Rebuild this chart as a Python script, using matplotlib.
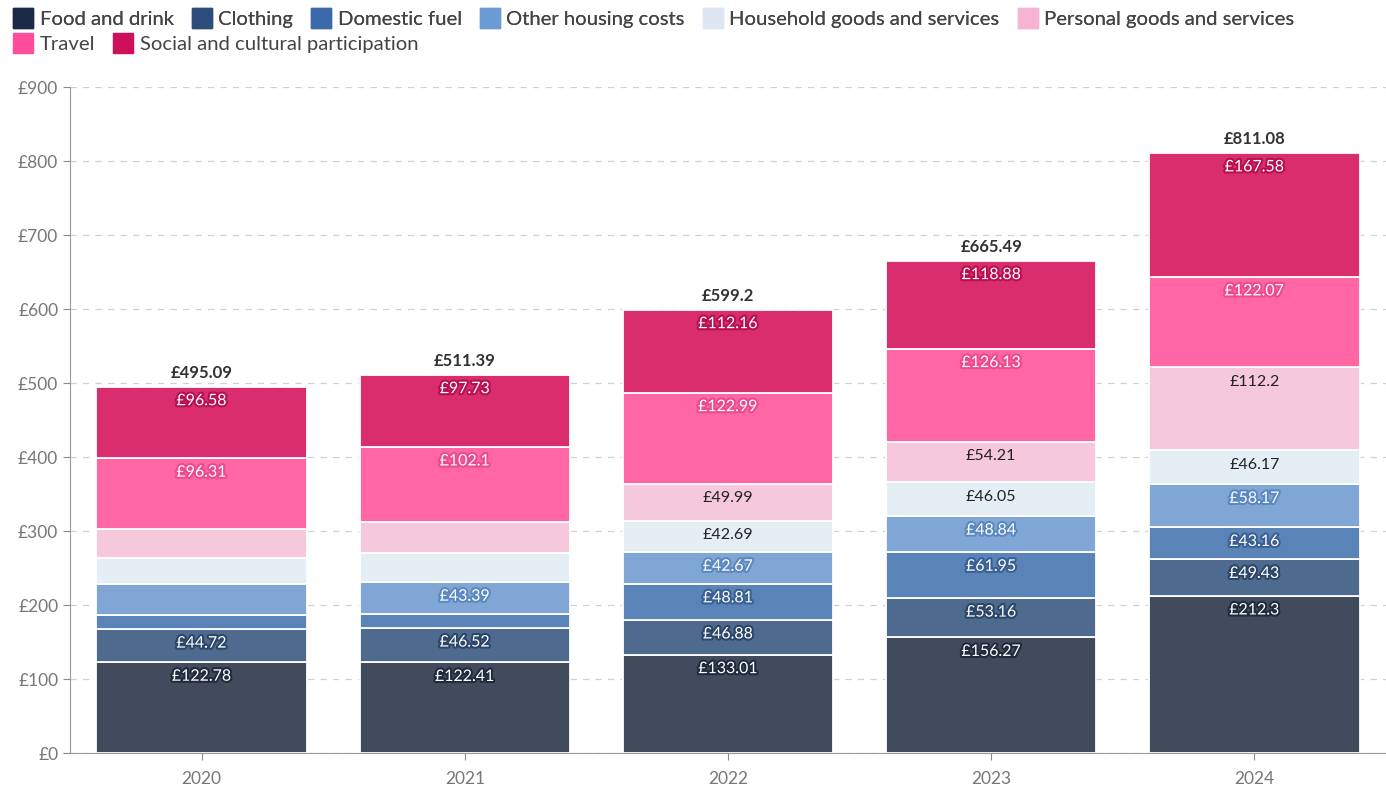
import matplotlib
matplotlib.use("Agg")
import matplotlib.pyplot as plt
import matplotlib.patheffects as pe
from matplotlib.lines import Line2D
import numpy as np

plt.rcParams['font.family'] = ['Lato', 'DejaVu Sans']

years = ["2020", "2021", "2022", "2023", "2024"]
series_names = ["Food and drink", "Clothing", "Domestic fuel", "Other housing costs",
                "Household goods and services", "Personal goods and services",
                "Travel", "Social and cultural participation"]
food = [122.78, 122.41, 133.01, 156.27, 212.30]
clothing = [44.72, 46.52, 46.88, 53.16, 49.43]
fuel = [19.5, 18.6, 48.81, 61.95, 43.16]
other_housing = [41.2, 43.39, 42.67, 48.84, 58.17]
household = [35.3, 38.9, 42.69, 46.05, 46.17]
personal = [38.7, 41.74, 49.99, 54.21, 112.20]
travel = [96.31, 102.10, 122.99, 126.13, 122.07]
social = [96.58, 97.73, 112.16, 118.88, 167.58]
totals = [495.09, 511.39, 599.2, 665.49, 811.08]
# which segments carry a value label in the original
shown = [
    [True, True, True, True, True],
    [True, True, True, True, True],
    [False, False, True, True, True],
    [False, True, True, True, True],
    [False, False, True, True, True],
    [False, False, True, True, True],
    [True, True, True, True, True],
    [True, True, True, True, True],
]
y_ticks = [0, 100, 200, 300, 400, 500, 600, 700, 800, 900]

data = [food, clothing, fuel, other_housing, household, personal, travel, social]
bar_colors = ["#414b5c", "#4f6a8f", "#5a83b8", "#80a6d6", "#e5edf5", "#f5c8dc", "#ff66a3", "#d92d6d"]
legend_colors = ["#1a2a44", "#2d4d7c", "#3a6aaa", "#6b9ad4", "#dde6f2", "#f6b4d2", "#ff4d9c", "#cf0f5a"]
label_fg = ["white", "white", "white", "white", "#222222", "#222222", "white", "white"]
label_stroke = ["#1f2b3c", "#2c4668", "#3a5f92", "#5c88c0", None, None, "#ec4a8c", "#b8104f"]

fig = plt.figure(figsize=(13.86, 7.85), dpi=100)
ax = fig.add_axes([70/1386, 32/785, 1 - 70/1386, (753-87)/785])

x = np.arange(len(years))
bottom = np.zeros(len(years))
for i, vals in enumerate(data):
    vals = np.array(vals)
    ax.bar(x, vals, width=0.8, bottom=bottom, color=bar_colors[i],
           edgecolor="white", linewidth=1.3, zorder=2)
    for j in range(len(years)):
        if shown[i][j]:
            top = bottom[j] + vals[j]
            txt = f"£{vals[j]:g}"
            effects = [pe.withStroke(linewidth=3, foreground=label_stroke[i])] if label_stroke[i] else []
            ax.annotate(txt, (x[j], top), xytext=(0, -10.5), textcoords="offset points",
                        ha="center", va="center", fontsize=11.5, color=label_fg[i],
                        path_effects=effects, zorder=4)
    bottom += vals

for j in range(len(years)):
    ax.annotate(f"£{totals[j]:g}", (x[j], bottom[j]), xytext=(0, 10), textcoords="offset points",
                ha="center", va="center", fontsize=12, fontweight="bold", color="#333333", zorder=4)

ax.set_xlim(-0.5, 4.5)
ax.set_ylim(0, 900)
ax.set_yticks(y_ticks)
ax.set_yticklabels([f"£{v}" for v in y_ticks])
ax.set_xticks(x)
ax.set_xticklabels(years)
ax.tick_params(axis="both", colors="#8a8a8a", labelcolor="#777777", labelsize=12.5, length=5)
ax.tick_params(axis="x", pad=8)
ax.yaxis.grid(True, linestyle=(0, (5, 5)), color="#d0d0d0", linewidth=0.9, zorder=0)
ax.set_axisbelow(True)
for s in ["top", "right"]:
    ax.spines[s].set_visible(False)
ax.spines["left"].set_color("#9a9a9a")
ax.spines["bottom"].set_color("#9a9a9a")

handles = [Line2D([0], [0], marker="s", linestyle="", markersize=14,
                  markerfacecolor=c, markeredgecolor=c) for c in legend_colors]
leg_kw = dict(loc="upper left", frameon=False, fontsize=14.6, handlelength=0.9, handletextpad=0.35,
              columnspacing=0.95, borderaxespad=0.3, labelcolor="#444444")
leg1 = fig.legend(handles[:6], series_names[:6], bbox_to_anchor=(0.0, 1.004), ncol=6, **leg_kw)
leg2 = fig.legend(handles[6:], series_names[6:], bbox_to_anchor=(0.0, 0.972), ncol=2, **leg_kw)
fig.add_artist(leg1)

fig.savefig("out.png", dpi=100)
